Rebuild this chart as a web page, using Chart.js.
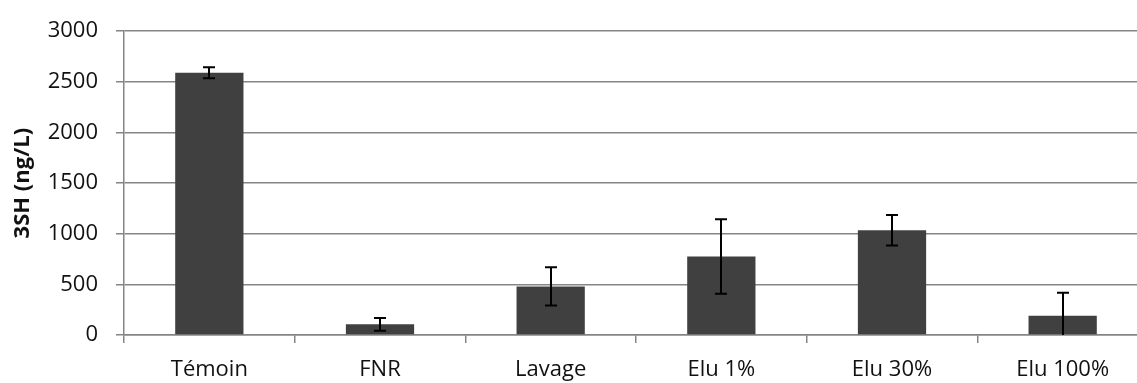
<!DOCTYPE html>
<html>
<head>
<meta charset="utf-8">
<script src="https://cdn.jsdelivr.net/npm/chart.js@4/dist/chart.umd.min.js"></script>
<style>
  html, body { margin: 0; padding: 0; background: #fff; overflow: hidden; }
  #wrap { width: 1150px; height: 383px; }
</style>
</head>
<body>
<div id="wrap"><canvas id="chart"></canvas></div>
<script>
const categories = ['Témoin', 'FNR', 'Lavage', 'Elu 1%', 'Elu 30%', 'Elu 100%'];
const values = [2590, 105, 480, 775, 1035, 190];
const errors = [55, 62, 188, 368, 150, 228];
const yTicks = [0, 500, 1000, 1500, 2000, 2500, 3000];

// draws the +/- error bars on top of the bars
const errorBars = {
  id: 'errorBars',
  afterDatasetsDraw(chart) {
    const ctx = chart.ctx;
    const y = chart.scales.y;
    const meta = chart.getDatasetMeta(0);
    ctx.save();
    ctx.strokeStyle = '#000';
    ctx.lineWidth = 2;
    meta.data.forEach((bar, i) => {
      const hi = values[i] + errors[i];
      const lo = values[i] - errors[i];
      const yHi = y.getPixelForValue(hi);
      const yLo = y.getPixelForValue(Math.max(lo, y.min));
      const x = Math.round(bar.x);
      ctx.beginPath();
      ctx.moveTo(x, yHi);
      ctx.lineTo(x, yLo);
      ctx.moveTo(x - 6, yHi);
      ctx.lineTo(x + 6, yHi);
      if (lo >= y.min) {
        ctx.moveTo(x - 6, yLo);
        ctx.lineTo(x + 6, yLo);
      }
      ctx.stroke();
    });
    ctx.restore();
  }
};

Chart.defaults.font.family = '"Open Sans", sans-serif';
Chart.defaults.font.size = 22;
Chart.defaults.color = '#111';

new Chart(document.getElementById('chart'), {
  type: 'bar',
  data: {
    labels: categories,
    datasets: [{
      data: values,
      backgroundColor: '#404040',
      categoryPercentage: 1,
      barPercentage: 0.4
    }]
  },
  options: {
    responsive: true,
    maintainAspectRatio: false,
    animation: false,
    layout: { padding: { top: 26, right: 2, left: 0, bottom: 0 } },
    plugins: { legend: { display: false }, tooltip: { enabled: false } },
    scales: {
      x: {
        afterFit: s => { s.height = 48; },
        grid: { offset: true, drawOnChartArea: false, tickLength: 8, color: '#858585', lineWidth: 1.5 },
        border: { color: '#858585', width: 1.5 },
        ticks: { padding: 14 }
      },
      y: {
        min: 0,
        max: 3000,
        afterFit: s => { s.width = 124; },
        afterBuildTicks: s => { s.ticks = yTicks.map(v => ({ value: v })); },
        grid: { color: '#858585', tickLength: 8, lineWidth: 1.5 },
        border: { color: '#858585', width: 1.5 },
        ticks: { padding: 18, callback: v => String(v) },
        title: {
          display: true,
          text: '3SH (ng/L)',
          font: { weight: 'bold', size: 22 },
          padding: { top: 10, bottom: 0 }
        }
      }
    }
  },
  plugins: [errorBars]
});
</script>
</body>
</html>
